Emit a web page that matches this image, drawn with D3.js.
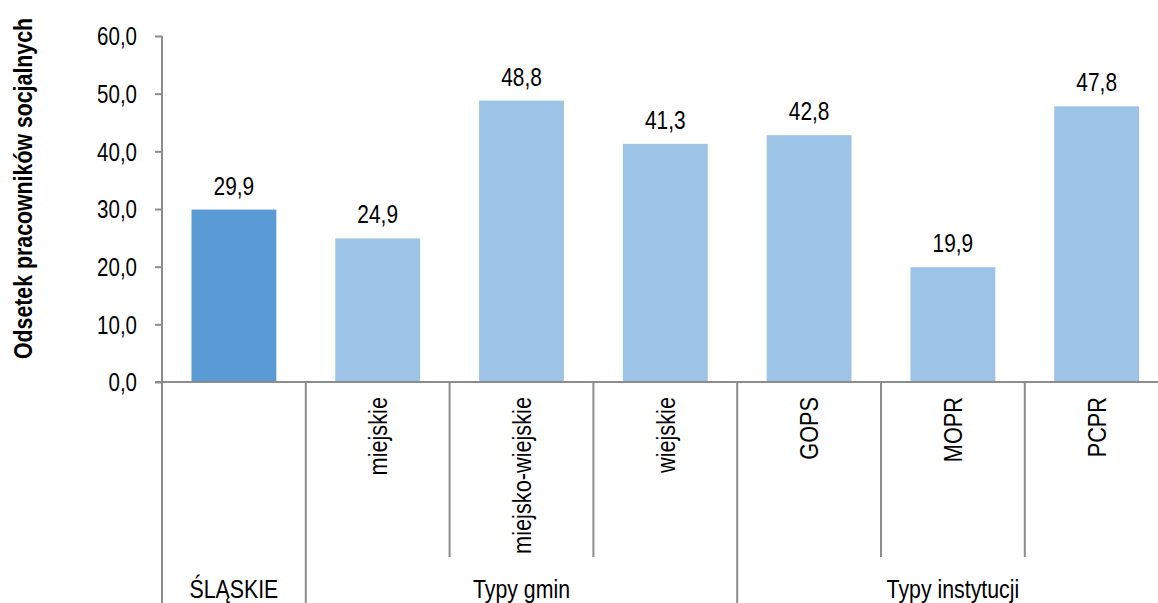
<!DOCTYPE html>
<html><head><meta charset="utf-8">
<script src="https://cdn.jsdelivr.net/npm/d3@7"></script>
<style>
html,body{margin:0;padding:0;background:#fff;}
svg{display:block;font-family:"Liberation Sans",Arial,sans-serif;}
</style></head>
<body>
<svg id="chart" width="1158" height="603"></svg>
<script>
const categories = ["ŚLĄSKIE","miejskie","miejsko-wiejskie","wiejskie","GOPS","MOPR","PCPR"];
const subLabels = ["","miejskie","miejsko-wiejskie","wiejskie","GOPS","MOPR","PCPR"];
const values = [29.9, 24.9, 48.8, 41.3, 42.8, 19.9, 47.8];
const groups = [
  {name:"ŚLĄSKIE", start:0, end:0},
  {name:"Typy gmin", start:1, end:3},
  {name:"Typy instytucji", start:4, end:6}
];
const yTicks = [0,10,20,30,40,50,60];
const yTitle = "Odsetek pracowników socjalnych";

const NARROW = 0.82; // emulate a narrow face
const svg = d3.select("#chart");
const x0 = 162, x1 = 1168.6, yTop = 36, yBase = 382;
const x = d3.scaleBand().domain(categories).range([x0, x1]).paddingInner(0).paddingOuter(0);
const y = d3.scaleLinear().domain([0,60]).range([yBase, yTop]);
const bw = x.bandwidth();
const barW = bw * 0.59;
const grey = "#8c8c8c";
const fmt = v => d3.format(".1f")(v).replace(".", ",");

// y axis
const yAxis = d3.axisLeft(y).tickValues(yTicks).tickSize(7).tickPadding(18).tickFormat(fmt);
const gy = svg.append("g").attr("transform", `translate(${x0},0)`).call(yAxis);
gy.select(".domain").remove();
gy.selectAll(".tick line").attr("stroke", grey).attr("stroke-width", 2);
gy.selectAll(".tick text").attr("font-size", 25).attr("fill", "#000")
  .attr("font-family", "'Liberation Sans',Arial,sans-serif")
  .attr("x", 0).attr("dy", "0.35em")
  .attr("transform", `translate(-25,0) scale(${NARROW},1)`);
svg.append("line").attr("x1", x0).attr("x2", x0).attr("y1", yTop).attr("y2", 603)
  .attr("stroke", grey).attr("stroke-width", 2);

// bars
svg.selectAll("rect.bar").data(values).enter().append("rect")
  .attr("x", (d,i) => x(categories[i]) + (bw - barW)/2)
  .attr("y", d => y(d))
  .attr("width", barW)
  .attr("height", d => yBase - y(d))
  .attr("fill", (d,i) => i === 0 ? "#5B9BD5" : "#9DC3E6");

// value labels
svg.selectAll("text.val").data(values).enter().append("text")
  .attr("transform", (d,i) => `translate(${x(categories[i]) + bw/2},${y(d) - 15}) scale(${NARROW},1)`)
  .attr("text-anchor", "middle").attr("font-size", 25.5).attr("fill", "#000")
  .text(fmt);

// x axis line
svg.append("line").attr("x1", x0 - 7).attr("x2", 1158).attr("y1", yBase).attr("y2", yBase)
  .attr("stroke", grey).attr("stroke-width", 2);

// dividers
categories.forEach((c,i) => {
  if (i === 0) return;
  const isGroupStart = groups.some(g => g.start === i);
  svg.append("line").attr("x1", x(c)).attr("x2", x(c)).attr("y1", yBase).attr("y2", isGroupStart ? 603 : 557)
    .attr("stroke", grey).attr("stroke-width", 2);
});

// sub labels
svg.selectAll("text.sub").data(subLabels).enter().append("text")
  .attr("transform", (d,i) => `translate(${x(categories[i]) + bw/2},397) rotate(-90) scale(${NARROW},1)`)
  .attr("dy", "0.35em")
  .attr("text-anchor", "end").attr("font-size", 26.5).attr("fill", "#000")
  .text(d => d);

// group labels
svg.selectAll("text.grp").data(groups).enter().append("text")
  .attr("transform", g => `translate(${(x(categories[g.start]) + x(categories[g.end]) + bw) / 2},598) scale(${NARROW},1)`)
  .attr("text-anchor", "middle").attr("font-size", 26).attr("fill", "#000")
  .text(g => g.name);

// y title
svg.append("text")
  .attr("transform", `translate(23,188.5) rotate(-90) scale(${NARROW},1)`)
  .attr("dy", "0.35em")
  .attr("text-anchor", "middle").attr("font-size", 26).attr("font-weight", "bold").attr("fill", "#000")
  .text(yTitle);
</script>
</body></html>
